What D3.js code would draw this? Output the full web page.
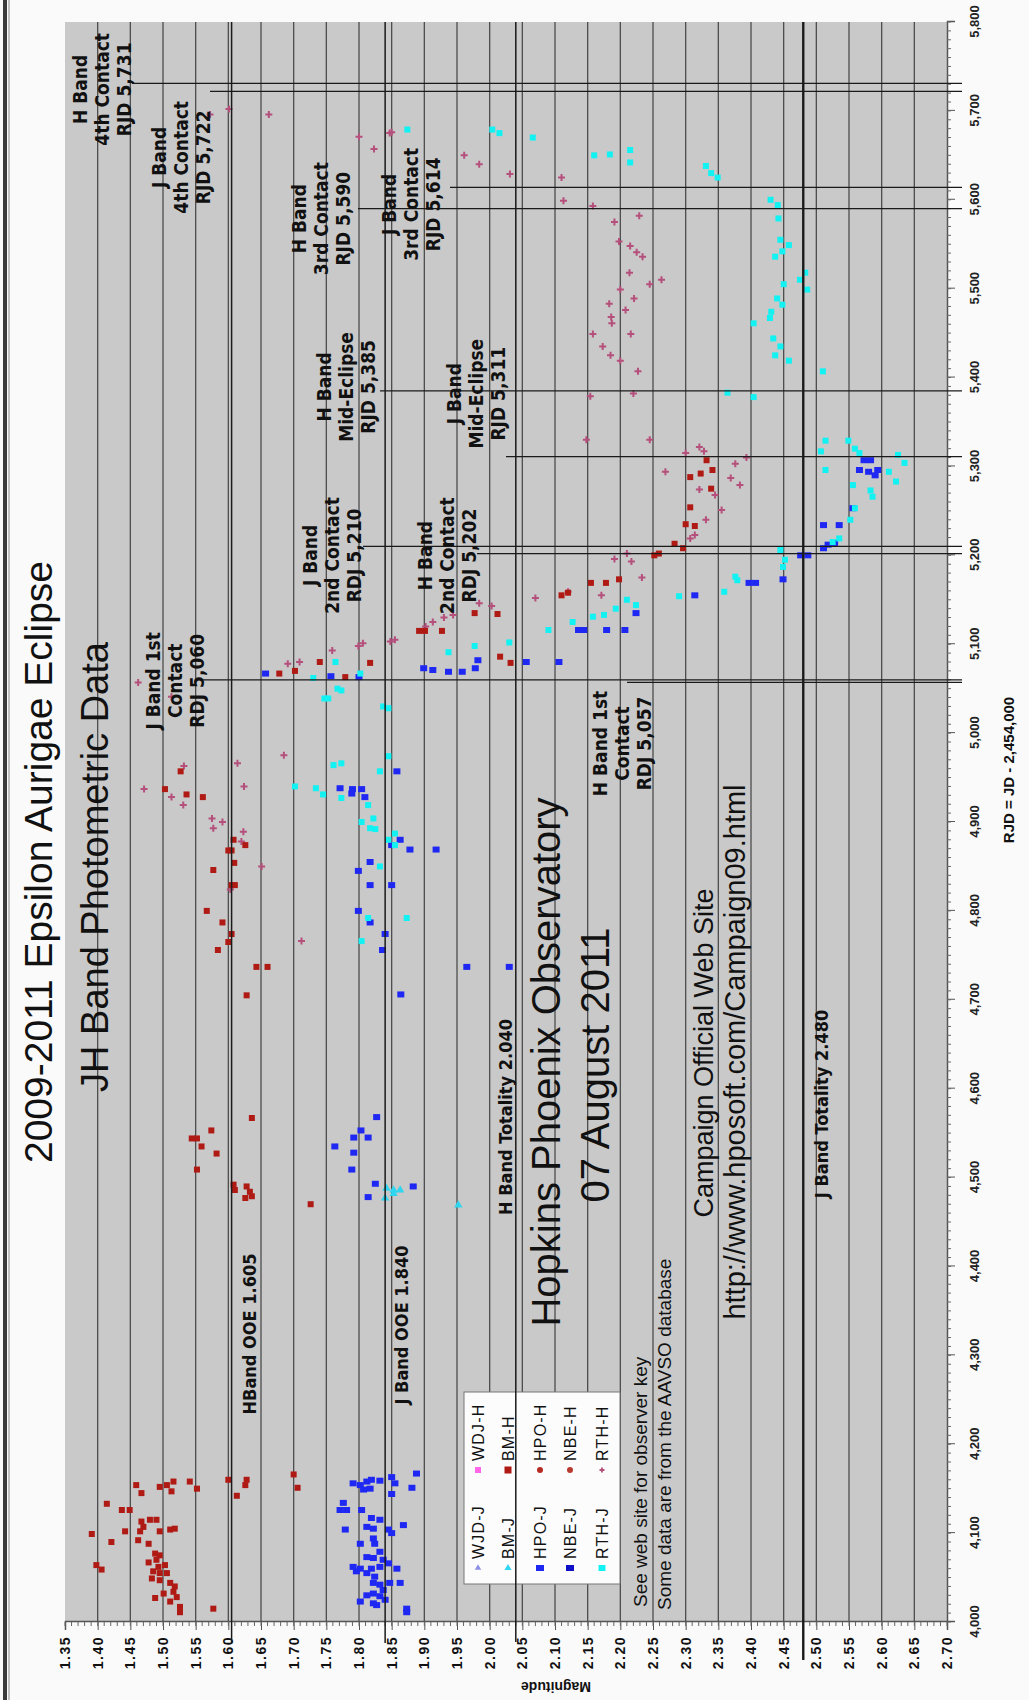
<!DOCTYPE html>
<html>
<head>
<meta charset="utf-8">
<script src="https://cdn.jsdelivr.net/npm/d3@7"></script>
<style>
  html, body { margin: 0; padding: 0; background: #fafafa; }
  svg { display: block; }
  text { font-family: "Liberation Sans", Arial, Helvetica, sans-serif; }
  .narrow { font-family: "Liberation Sans Narrow", "Arial Narrow", "DejaVu Sans Condensed", "Liberation Sans", sans-serif; font-weight: bold; }
</style>
</head>
<body>
<svg id="chart" width="1029" height="1700"></svg>
<script>
// ---------- axis ticks ----------
const magTickLabels = ["1.35","1.40","1.45","1.50","1.55","1.60","1.65","1.70","1.75","1.80","1.85","1.90","1.95","2.00",
  "2.05","2.10","2.15","2.20","2.25","2.30","2.35","2.40","2.45","2.50","2.55","2.60","2.65","2.70"];
const rjdTickLabels = [4000,4100,4200,4300,4400,4500,4600,4700,4800,4900,5000,5100,5200,5300,5400,5500,5600,5700,5800];

// ---------- observations: [RJD, magnitude] ----------
const hpoH = [
  [4154,1.459],[4145,1.467],[4133,1.414],[4126,1.437],[4126,1.449],[4099,1.391],[4090,1.421],[4102,1.442],[4113,1.467],
  [4115,1.480],[4115,1.490],[4107,1.470],[4102,1.465],[4102,1.495],[4104,1.511],[4105,1.518],[4092,1.462],[4088,1.478],
  [4077,1.488],[4075,1.495],[4070,1.490],[4067,1.478],[4062,1.493],[4064,1.503],[4057,1.485],[4055,1.495],[4055,1.506],
  [4049,1.483],[4047,1.495],[4044,1.511],[4040,1.518],[4032,1.501],[4034,1.516],[4028,1.521],[4027,1.488],[4023,1.511],
  [4017,1.526],[4011,1.526],[4064,1.398],[4059,1.406],[4152,1.495],[4154,1.506],[4158,1.516],[4147,1.513],[4158,1.541],
  [4150,1.552],[4160,1.600],[4160,1.628],[4154,1.626],[4142,1.613],[4166,1.700],[4151,1.706],[4015,1.577],
  [4567,1.636],[4553,1.574],[4544,1.544],[4544,1.552],[4535,1.559],[4527,1.582],[4509,1.552],[4492,1.608],[4486,1.610],
  [4490,1.628],[4484,1.633],[4477,1.626],[4479,1.636],[4470,1.726],
  [4957,1.527],[4937,1.503],[4931,1.536],[4928,1.561],[4880,1.608],[4868,1.600],[4868,1.605],[4874,1.626],[4854,1.609],
  [4846,1.577],[4829,1.605],[4829,1.610],[4800,1.567],[4787,1.591],[4774,1.605],[4765,1.600],[4756,1.584],[4737,1.643],
  [4737,1.660],[4705,1.628],
  [5307,2.332],[5288,2.307],[5292,2.323],[5296,2.341],[5275,2.339],[5254,2.307],[5235,2.300],[5233,2.314],[5213,2.283],
  [5208,2.296],[5200,2.252],[5202,2.259],[5173,2.198],[5169,2.178],[5169,2.155],[5155,2.110],[5158,2.120],[5135,1.977],
  [5134,2.012],[5115,1.892],[5115,1.901],[5115,1.927],[5086,2.016],[5079,2.032],[5080,1.740],[5079,1.817],[5063,1.779],
  [5067,1.678],[5070,1.702]
];
const hpoJ = [
  [4156,1.791],[4154,1.802],[4158,1.812],[4160,1.819],[4159,1.832],[4163,1.850],[4156,1.855],[4167,1.888],[4151,1.881],
  [4149,1.807],[4150,1.817],[4144,1.850],[4134,1.776],[4126,1.771],[4126,1.781],[4126,1.804],[4117,1.819],[4115,1.832],
  [4107,1.812],[4105,1.822],[4104,1.845],[4100,1.850],[4104,1.779],[4109,1.868],[4088,1.802],[4094,1.822],[4088,1.824],
  [4079,1.832],[4073,1.812],[4072,1.822],[4070,1.837],[4062,1.791],[4060,1.802],[4060,1.819],[4062,1.832],[4066,1.845],
  [4057,1.796],[4055,1.812],[4051,1.824],[4060,1.858],[4044,1.822],[4042,1.832],[4044,1.847],[4044,1.863],[4036,1.837],
  [4032,1.822],[4030,1.812],[4029,1.832],[4023,1.802],[4021,1.822],[4025,1.840],[4015,1.873],[4011,1.873],[4019,1.827],
  [4568,1.827],[4553,1.803],[4545,1.792],[4545,1.814],[4535,1.763],[4528,1.792],[4509,1.789],[4493,1.825],[4478,1.814],
  [4490,1.883],
  [4957,1.858],[4938,1.771],[4937,1.790],[4937,1.804],[4932,1.789],[4928,1.809],[4880,1.863],[4869,1.878],[4869,1.918],
  [4874,1.850],[4855,1.817],[4845,1.799],[4829,1.817],[4829,1.850],[4800,1.799],[4787,1.817],[4774,1.840],[4756,1.836],
  [4737,1.965],[4737,2.030],[4706,1.864],
  [5307,2.573],[5307,2.583],[5296,2.566],[5294,2.580],[5296,2.594],[5290,2.590],[5253,2.556],[5234,2.511],[5234,2.535],
  [5212,2.518],[5214,2.528],[5208,2.511],[5200,2.476],[5200,2.487],[5173,2.449],[5169,2.397],[5169,2.407],[5155,2.314],
  [5135,2.224],[5116,2.207],[5116,2.179],[5116,2.144],[5116,2.136],[5080,2.106],[5080,2.056],[5082,1.982],[5073,1.978],
  [5069,1.958],[5069,1.937],[5071,1.913],[5073,1.899],[5064,1.757],[5063,1.800],[5067,1.657]
];
const rthJ = [
  [5039,1.753],[5048,1.773],[5028,1.845],[4974,1.845],[4964,1.761],[4966,1.773],[4957,1.832],[4940,1.702],[4938,1.734],
  [4931,1.745],[4927,1.773],[4919,1.814],[4904,1.822],[4900,1.804],[4893,1.817],[4892,1.825],[4887,1.855],[4880,1.845],
  [4874,1.855],[4850,1.832],[4792,1.814],[4792,1.873],[4766,1.804],
  [5329,2.514],[5329,2.549],[5317,2.507],[5320,2.559],[5315,2.566],[5313,2.625],[5304,2.635],[5296,2.514],[5294,2.611],
  [5283,2.622],[5279,2.556],[5273,2.583],[5266,2.586],[5253,2.559],[5240,2.552],[5219,2.535],[5215,2.525],[5206,2.445],
  [5195,2.452],[5187,2.449],[5176,2.376],[5172,2.379],[5159,2.359],[5154,2.290],[5144,2.224],[5150,2.210],[5140,2.193],
  [5131,2.158],[5133,2.175],[5125,2.127],[5116,2.090],[5102,2.030],[5098,1.977],[5091,1.937],[5067,1.802],[5080,1.764],
  [5050,1.767],[5062,1.730],[5039,1.747],[5030,1.837],
  [5679,1.874],[5679,2.004],[5675,2.015],[5670,2.066],[5650,2.160],[5651,2.184],[5656,2.215],[5642,2.215],[5638,2.331],
  [5630,2.339],[5625,2.349],[5600,2.430],[5594,2.441],[5579,2.442],[5555,2.445],[5549,2.458],[5542,2.448],[5536,2.437],
  [5518,2.483],[5510,2.475],[5499,2.486],[5505,2.450],[5489,2.440],[5482,2.448],[5474,2.431],[5467,2.429],[5461,2.404],
  [5444,2.434],[5435,2.445],[5425,2.437],[5419,2.458],[5407,2.510],[5383,2.364],[5378,2.404]
];
const bmJ = [[4488,1.842],[4486,1.853],[4486,1.863],[4477,1.840],[4482,1.853],[4469,1.952]];
const rthH = [
  [4963,1.532],[4928,1.513],[4919,1.531],[4937,1.471],[4966,1.614],[4940,1.624],[4975,1.685],[4904,1.575],[4900,1.591],
  [4893,1.577],[4889,1.623],[4878,1.620],[4850,1.651],[4824,1.603],[4766,1.712],[5041,1.513],
  [5330,2.148],[5330,2.245],[5315,2.300],[5322,2.321],[5317,2.328],[5294,2.269],[5303,2.376],[5310,2.393],[5287,2.369],
  [5279,2.383],[5274,2.321],[5268,2.345],[5251,2.355],[5240,2.331],[5219,2.307],[5223,2.314],[5202,2.210],[5193,2.217],
  [5196,2.191],[5175,2.233],[5155,2.171],[5152,2.070],[5159,2.120],[5133,1.944],[5130,1.930],[5125,1.913],[5120,1.902],
  [5146,1.984],[5143,2.003],[5103,1.848],[5098,1.799],[5093,1.759],[5078,1.691],[5080,1.709],
  [5675,1.847],[5650,1.961],[5640,1.984],[5629,2.031],[5625,2.110],[5599,2.113],[5593,2.158],[5582,2.229],[5575,2.191],
  [5553,2.198],[5548,2.215],[5541,2.225],[5536,2.234],[5518,2.214],[5505,2.245],[5510,2.263],[5499,2.200],[5489,2.221],
  [5483,2.183],[5476,2.208],[5468,2.186],[5461,2.187],[5449,2.158],[5449,2.216],[5435,2.173],[5425,2.185],[5419,2.200],
  [5407,2.227],[5379,2.154],[5382,2.220],
  [5696,1.572],[5702,1.601],[5696,1.662],[5671,1.800],[5657,1.823],[5676,1.850],[5057,1.462],[5105,1.855],[5101,1.806]
];

// ---------- reference levels and contact dates ----------
const magLevels = [
  { mag: 1.605, label: "HBand OOE 1.605" },
  { mag: 1.840, label: "J Band OOE 1.840" },
  { mag: 2.040, label: "H Band Totality 2.040" },
  { mag: 2.480, label: "J Band Totality 2.480" }
];
const contactDates = [
  { rjd: 5060, label: ["J Band 1st", "Contact", "RDJ 5,060"] },
  { rjd: 5057, label: ["H Band 1st", "Contact", "RDJ 5,057"] },
  { rjd: 5210, label: ["J Band", "2nd Contact", "RDJ 5,210"] },
  { rjd: 5202, label: ["H Band", "2nd Contact", "RDJ 5,202"] },
  { rjd: 5385, label: ["H Band", "Mid-Eclipse", "RJD 5,385"] },
  { rjd: 5311, label: ["J Band", "Mid-Eclipse", "RJD 5,311"] },
  { rjd: 5590, label: ["H Band", "3rd Contact", "RJD 5,590"] },
  { rjd: 5614, label: ["J Band", "3rd Contact", "RJD 5,614"] },
  { rjd: 5722, label: ["J Band", "4th Contact", "RJD 5,722"] },
  { rjd: 5731, label: ["H Band", "4th Contact", "RJD 5,731"] }
];
const legendRows = [["WJD-J","WDJ-H"],["BM-J","BM-H"],["HPO-J","HPO-H"],["NBE-J","NBE-H"],["RTH-J","RTH-H"]];

// ---------- layout (drawn landscape, then turned a quarter turn) ----------
// label placement for the contact-date notes: shift along time (px), first baseline, line start
const contactLayout = [
  { dx: -1,  base: 160, from: 200 },
  { dx: -61, base: 607, from: 627 },
  { dx: -9,  base: 317, from: 363 },
  { dx: -2,  base: 432, from: 477 },
  { dx: 4,   base: 331, from: 380 },
  { dx: 63,  base: 461, from: 506 },
  { dx: -10, base: 306, from: 358 },
  { dx: -17, base: 396, from: 450 },
  { dx: -66, base: 166, from: 210 },
  { dx: -6,  base: 87,  from: 132 }
];
const levelLayout = [
  { cx: 366, dy: 24, ext: 57 },
  { cx: 375, dy: 23, ext: 57 },
  { cx: 583, dy: -4, ext: 58 },
  { cx: 596, dy: 25, ext: 40 }
];

const colors = {
  red: "#b01a14", blue: "#1e28f2", cyan: "#12f2f2", mauve: "#b5507c",
  grid: "#4d4d4d", bg: "#c9c9c9", ink: "#1a1a1a"
};

const svg = d3.select("#chart");
svg.append("rect").attr("width", 1029).attr("height", 1700).attr("fill", "#fafafa");

const g = svg.append("g").attr("transform", "translate(0,1700) rotate(-90)");

const x = d3.scaleLinear().domain([4000, 5800]).range([78, 1678]);
const y = d3.scaleLinear().domain([1.35, 2.70]).range([65, 947]);
const magVals = magTickLabels.map(Number);

// outer frame rule
g.append("rect").attr("x", 0).attr("y", 3).attr("width", 1700).attr("height", 4).attr("fill", "#3a3a3a");
g.append("line").attr("x1", 0).attr("x2", 1700).attr("y1", 9).attr("y2", 9).attr("stroke", "#888").attr("stroke-width", 1);

// plot area
g.append("rect")
  .attr("x", x(4000)).attr("y", y(1.35))
  .attr("width", x(5800) - x(4000)).attr("height", y(2.70) - y(1.35))
  .attr("fill", colors.bg);

// magnitude grid
g.append("g").selectAll("line")
  .data(magVals.filter(d => d > 1.35 && d < 2.70))
  .join("line")
  .attr("x1", x(4000)).attr("x2", x(5800))
  .attr("y1", d => y(d)).attr("y2", d => y(d))
  .attr("stroke", colors.grid).attr("stroke-width", 1.3);

// magnitude axis (left in landscape)
const magAxis = g.append("g").attr("transform", `translate(${x(4000)},0)`)
  .call(d3.axisLeft(y).tickValues(magVals).tickFormat(d3.format(".2f")).tickSize(8).tickPadding(6));
magAxis.select(".domain").attr("stroke", "#555").attr("stroke-width", 1.5);
magAxis.selectAll(".tick line").attr("stroke", "#555");
magAxis.selectAll("text").attr("font-size", 14).attr("font-weight", "bold").attr("fill", "#111")
  .attr("letter-spacing", 1.5).attr("font-family", "'Liberation Sans', Arial, sans-serif");
g.append("g").selectAll("line")
  .data(d3.range(135, 271).map(v => v / 100))
  .join("line")
  .attr("x1", x(4000) - 4).attr("x2", x(4000))
  .attr("y1", d => y(d)).attr("y2", d => y(d))
  .attr("stroke", "#666").attr("stroke-width", 1);

g.append("text")
  .attr("transform", `translate(18,556) rotate(-90)`)
  .attr("text-anchor", "middle").attr("font-size", 14).attr("font-weight", "bold").attr("fill", "#111")
  .text("Magnitude");

// time axis (bottom in landscape)
const rjdAxis = g.append("g").attr("transform", `translate(0,${y(2.70)})`)
  .call(d3.axisBottom(x).tickValues(rjdTickLabels).tickFormat(d3.format(",")).tickSize(8).tickPadding(15));
rjdAxis.select(".domain").attr("stroke", "#555").attr("stroke-width", 1.5);
rjdAxis.selectAll(".tick line").attr("stroke", "#555");
rjdAxis.selectAll("text").attr("font-size", 13).attr("font-weight", "bold").attr("fill", "#222");
g.append("g").selectAll("line")
  .data(d3.range(4000, 5801, 10))
  .join("line")
  .attr("x1", d => x(d)).attr("x2", d => x(d))
  .attr("y1", y(2.70)).attr("y2", y(2.70) + 4)
  .attr("stroke", "#666").attr("stroke-width", 1);

g.append("text")
  .attr("x", 930).attr("y", 1014)
  .attr("text-anchor", "middle").attr("font-size", 15).attr("font-weight", "bold").attr("fill", "#111")
  .text("RJD = JD - 2,454,000");

// data
const clip = g.append("clipPath").attr("id", "plotClip").append("rect")
  .attr("x", x(4000)).attr("y", y(1.35)).attr("width", x(5800) - x(4000)).attr("height", y(2.70) - y(1.35));
const pts = g.append("g").attr("clip-path", "url(#plotClip)");

pts.append("g").selectAll("path").data(rthH).join("path")
  .attr("transform", d => `translate(${x(d[0])},${y(d[1])})`)
  .attr("d", "M-3.5,0H3.5M0,-3.5V3.5")
  .attr("stroke", colors.mauve).attr("stroke-width", 2).attr("fill", "none");

pts.append("g").selectAll("rect").data(hpoH).join("rect")
  .attr("x", d => x(d[0]) - 3).attr("y", d => y(d[1]) - 3)
  .attr("width", 6).attr("height", 6).attr("fill", colors.red);

pts.append("g").selectAll("rect").data(hpoJ).join("rect")
  .attr("x", d => x(d[0]) - 3).attr("y", d => y(d[1]) - 3.5)
  .attr("width", 6).attr("height", 7).attr("fill", colors.blue);

pts.append("g").selectAll("rect").data(rthJ).join("rect")
  .attr("x", d => x(d[0]) - 3).attr("y", d => y(d[1]) - 3)
  .attr("width", 6).attr("height", 6).attr("fill", colors.cyan);

const tri = d3.symbol().type(d3.symbolTriangle).size(30);
pts.append("g").selectAll("path").data(bmJ).join("path")
  .attr("transform", d => `translate(${x(d[0])},${y(d[1])}) rotate(90)`)
  .attr("d", tri).attr("fill", "#2fd6f0");

// legend
const lg = g.append("g");
lg.append("rect").attr("x", 116).attr("y", 464).attr("width", 192).attr("height", 156)
  .attr("fill", "#fcfcfc").attr("stroke", "#777").attr("stroke-width", 1);
const rowV = [478, 508, 540, 570, 602];
const markerFor = {
  "WJD-J": s => s.append("path").attr("d", d3.symbol().type(d3.symbolTriangle).size(18)).attr("transform", "rotate(90)").attr("fill", "#8d8fe6"),
  "BM-J":  s => s.append("path").attr("d", d3.symbol().type(d3.symbolTriangle).size(22)).attr("transform", "rotate(90)").attr("fill", "#2fd6f0"),
  "HPO-J": s => s.append("rect").attr("x", -3).attr("y", -4).attr("width", 6).attr("height", 8).attr("fill", colors.blue),
  "NBE-J": s => s.append("rect").attr("x", -3).attr("y", -4).attr("width", 6).attr("height", 8).attr("fill", "#1010c8"),
  "RTH-J": s => s.append("rect").attr("x", -3).attr("y", -3.5).attr("width", 6).attr("height", 7).attr("fill", colors.cyan),
  "WDJ-H": s => s.append("rect").attr("x", -3).attr("y", -3).attr("width", 6).attr("height", 6).attr("fill", "#ff66e8"),
  "BM-H":  s => s.append("rect").attr("x", -3.5).attr("y", -3.5).attr("width", 7).attr("height", 7).attr("fill", colors.red),
  "HPO-H": s => s.append("circle").attr("r", 3).attr("fill", "#b52a22"),
  "NBE-H": s => s.append("circle").attr("r", 3).attr("fill", "#b83a30"),
  "RTH-H": s => s.append("path").attr("d", "M-2.5,0H2.5M0,-2.5V2.5").attr("stroke", colors.mauve).attr("stroke-width", 1.8)
};
legendRows.forEach((row, i) => {
  row.forEach((name, j) => {
    const mu = j === 0 ? 132 : 230;
    const item = lg.append("g").attr("transform", `translate(${mu},${rowV[i]})`);
    markerFor[name](item);
    lg.append("text").attr("x", mu + 9).attr("y", rowV[i] + 5.5)
      .attr("font-size", 16).attr("letter-spacing", 1.2).attr("fill", "#111").text(name);
  });
});

// magnitude reference levels
magLevels.forEach((d, i) => {
  const L = levelLayout[i];
  g.append("line")
    .attr("x1", L.ext).attr("x2", x(5800))
    .attr("y1", y(d.mag)).attr("y2", y(d.mag))
    .attr("stroke", colors.ink).attr("stroke-width", i === 3 ? 2.4 : 1.5);
  g.append("text").attr("class", "narrow")
    .attr("x", L.cx).attr("y", y(d.mag) + L.dy)
    .attr("text-anchor", "middle").attr("font-size", 18).attr("fill", "#111")
    .text(d.label);
});

// contact dates
contactDates.forEach((d, i) => {
  const L = contactLayout[i];
  g.append("line")
    .attr("x1", x(d.rjd)).attr("x2", x(d.rjd))
    .attr("y1", L.from).attr("y2", 962)
    .attr("stroke", colors.ink).attr("stroke-width", 1.3);
  const t = g.append("text").attr("class", "narrow")
    .attr("text-anchor", "middle").attr("font-size", 19).attr("fill", "#111");
  d.label.forEach((s, k) => {
    t.append("tspan").attr("x", x(d.rjd) + L.dx).attr("y", L.base + k * 22).text(s);
  });
});

// titles and notes
const notes = [
  { text: "2009-2011 Epsilon Aurigae Eclipse", u: 838, v: 52, size: 39 },
  { text: "JH Band Photometric Data", u: 833, v: 108, size: 38 },
  { text: "Hopkins Phoenix Observatory", u: 638, v: 560, size: 40 },
  { text: "07 August 2011", u: 635, v: 609, size: 40 },
  { text: "Campaign Official Web Site", u: 647, v: 713, size: 27 },
  { text: "http://www.hposoft.com/Campaign09.html", u: 648, v: 745, size: 29 }
];
notes.forEach(n => {
  g.append("text").attr("x", n.u).attr("y", n.v).attr("text-anchor", "middle")
    .attr("font-size", n.size).attr("fill", "#111").text(n.text);
});
g.append("text").attr("x", 93).attr("y", 647).attr("font-size", 19).attr("fill", "#111")
  .text("See web site for observer key");
g.append("text").attr("x", 90).attr("y", 671).attr("font-size", 19).attr("fill", "#111")
  .text("Some data are from the AAVSO database");
</script>
</body>
</html>
